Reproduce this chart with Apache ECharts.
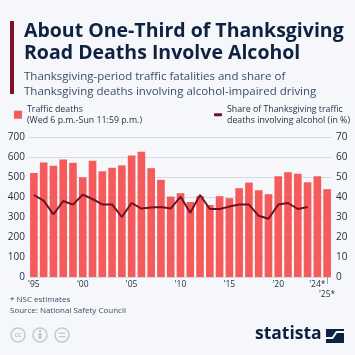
<!DOCTYPE html>
<html><head><meta charset="utf-8">
<script src="https://cdn.jsdelivr.net/npm/echarts@6/dist/echarts.min.js"></script>
<style>html,body{margin:0;padding:0;background:#f5f7fa}#c{width:355px;height:355px}</style>
</head><body><div id="c"></div>
<script>
const years = ['1995','1996','1997','1998','1999','2000','2001','2002','2003','2004','2005','2006','2007','2008','2009','2010','2011','2012','2013','2014','2015','2016','2017','2018','2019','2020','2021','2022','2023','2024','2025'];
const trafficDeaths = [520,573,556,588,571,499,581,529,546,558,608,626,544,486,402,419,375,404,360,404,394,444,472,434,414,504,524,516,474,504,439];
const alcoholShare = [41,38.2,31.3,38,36.2,41.2,39,36.3,36.3,30,37,34.2,34.8,35,34.3,40.1,32.1,41,34,34,35.2,36.2,36.2,30.6,29.1,36.2,37,34,35,null,null];
const tickLabels = {'1995':"'95",'2000':"'00",'2005':"'05",'2010':"'10",'2015':"'15",'2020':"'20",'2024':"'24*",'2025':"\n'25*"};
const leftTicks = [0,100,200,300,400,500,600,700];
const rightTicks = [0,10,20,30,40,50,60,70];

const FONT = 'Open Sans';
const chart = echarts.init(document.getElementById('c'));
chart.setOption({
  backgroundColor: '#f5f7fa',
  animation: false,
  textStyle: {fontFamily: FONT},
  grid: {left: 29, right: 23, top: 137, bottom: 78, containLabel: false},
  legend: [
    {data: ['Traffic deaths'], left: 9, top: 94, itemWidth: 8, itemHeight: 8, icon: 'rect', itemGap: 4,
     formatter: () => 'Traffic deaths\n(Wed 6 p.m.-Sun 11:59 p.m.)',
     textStyle: {color: '#1e2d40', fontSize: 8.8, lineHeight: 10.5, padding: [10.5,0,0,0]}},
    {data: ['Share of Thanksgiving traffic deaths involving alcohol (in %)'], left: 209, top: 94, itemWidth: 8, itemHeight: 3, icon: 'roundRect',
     formatter: () => 'Share of Thanksgiving traffic\ndeaths involving alcohol (in %)',
     textStyle: {color: '#1e2d40', fontSize: 8.8, lineHeight: 10.5, padding: [10.5,0,0,0]}}
  ],
  xAxis: {
    type: 'category', data: years,
    axisLine: {show: false},
    axisTick: {show: true, alignWithLabel: true, length: 7, interval: (i) => i === 30, lineStyle: {color: '#9aa3ad'}},
    axisLabel: {interval: 0, color: '#1e2d40', fontSize: 8.5, margin: 3, lineHeight: 10,
      formatter: (v) => tickLabels[v] || ''}
  },
  yAxis: [
    {type: 'value', min: 0, max: 700, interval: 100,
     axisLabel: {color: '#1e2d40', fontSize: 10, margin: 4, formatter: (v) => leftTicks.includes(v) ? String(v) : ''},
     splitLine: {lineStyle: {color: '#d5dbe2', width: 1}}, axisLine: {show: false}, axisTick: {show: false}},
    {type: 'value', min: 0, max: 70, interval: 10,
     axisLabel: {color: '#1e2d40', fontSize: 10, margin: 4, formatter: (v) => rightTicks.includes(v) ? String(v) : ''},
     splitLine: {show: false}, axisLine: {show: false}, axisTick: {show: false}}
  ],
  series: [
    {name: 'Traffic deaths', type: 'bar', data: trafficDeaths, barCategoryGap: '22%',
     itemStyle: {color: '#f55b5b'}},
    {name: 'Share of Thanksgiving traffic deaths involving alcohol (in %)', type: 'line', yAxisIndex: 1,
     data: alcoholShare, symbol: 'none', connectNulls: false,
     lineStyle: {color: '#6e1323', width: 2}, itemStyle: {color: '#6e1323'}}
  ],
  graphic: [
    {type: 'rect', left: 10, top: 21, shape: {width: 4, height: 73}, style: {fill: '#7a1423'}},
    {type: 'text', left: 24, top: 20, style: {text: 'About One-Third of Thanksgiving\nRoad Deaths Involve Alcohol',
      fill: '#0e2240', font: 'bold 19.5px "Open Sans"', lineHeight: 22.5}},
    {type: 'text', left: 24, top: 69, style: {text: 'Thanksgiving-period traffic fatalities and share of\nThanksgiving deaths involving alcohol-impaired driving',
      fill: '#3a4d66', font: '11.5px "Open Sans"', lineHeight: 15}},
    {type: 'text', left: 10, top: 296, style: {text: '* NSC estimates', fill: '#3a4d66', font: '8px "Open Sans"'}},
    {type: 'text', left: 10, top: 307, style: {text: 'Source: National Safety Council', fill: '#3a4d66', font: '8px "Open Sans"'}},
    {type: 'circle', shape: {cx: 18, cy: 335, r: 7}, style: {fill: 'none', stroke: '#c3c9d1', lineWidth: 1.5}},
    {type: 'text', x: 18, y: 335, style: {text: 'cc', fill: '#c3c9d1', font: 'bold 7px "Open Sans"', align: 'center', verticalAlign: 'middle'}},
    {type: 'circle', shape: {cx: 40, cy: 335, r: 7}, style: {fill: 'none', stroke: '#c3c9d1', lineWidth: 1.5}},
    {type: 'circle', shape: {cx: 40, cy: 331, r: 1.3}, style: {fill: '#c3c9d1'}},
    {type: 'rect', shape: {x: 38.5, y: 333, width: 3, height: 6}, style: {fill: '#c3c9d1'}},
    {type: 'circle', shape: {cx: 62, cy: 335, r: 7}, style: {fill: 'none', stroke: '#c3c9d1', lineWidth: 1.5}},
    {type: 'rect', shape: {x: 58.5, y: 332.5, width: 7, height: 1.3}, style: {fill: '#c3c9d1'}},
    {type: 'rect', shape: {x: 58.5, y: 336, width: 7, height: 1.3}, style: {fill: '#c3c9d1'}},
    {type: 'text', left: 255, top: 325, style: {text: 'statista', fill: '#0e2240', font: 'bold 17.5px "Open Sans"'}},
    {type: 'rect', shape: {x: 326, y: 329, width: 18, height: 14}, style: {fill: '#0e2240'}},
    {type: 'polygon', shape: {points: [[326,339],[333,339],[337,333],[344,333],[344,331],[336,331],[332,337],[326,337]]}, style: {fill: '#f5f7fa'}}
  ]
});
</script></body></html>
